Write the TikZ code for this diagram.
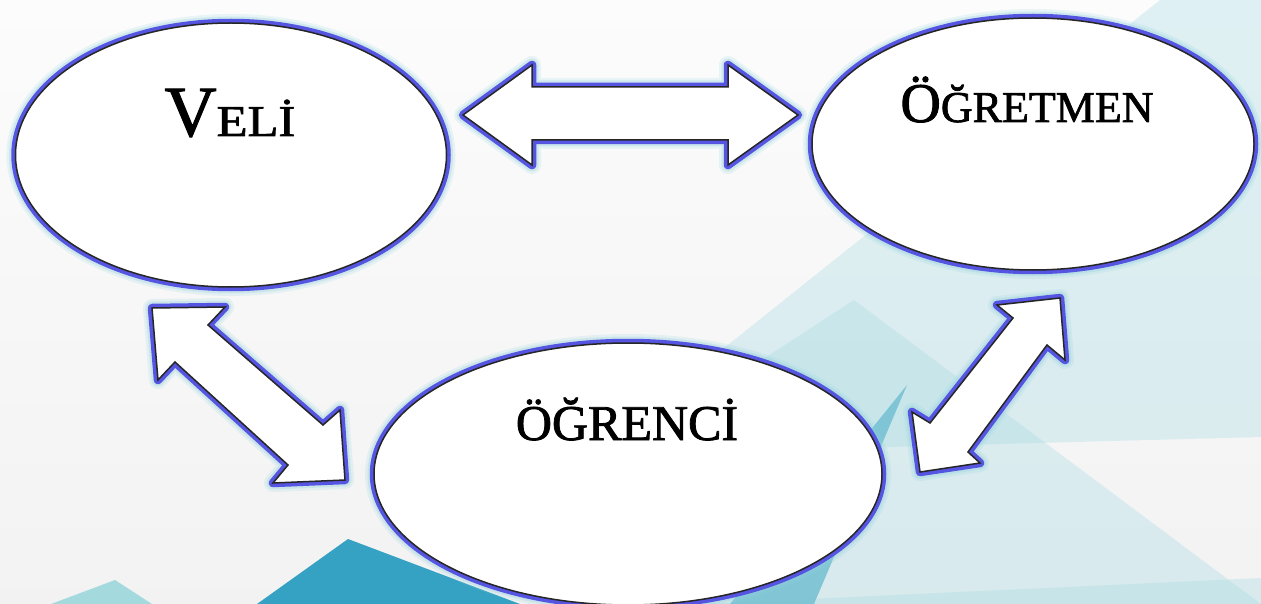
\documentclass[tikz,border=0pt]{standalone}
\usepackage{fontspec}
\usepackage{graphicx}
\setmainfont{Liberation Serif}
\newfontfamily\lblfont{Liberation Serif}[FakeBold=1.6]
\usetikzlibrary{shapes.geometric}
\definecolor{glowblue}{HTML}{5555E2}
\definecolor{glowcyan}{HTML}{8FD0DC}
\definecolor{tealpale}{HTML}{A8DCE3}
\definecolor{tealdark}{HTML}{36A2C3}
\definecolor{teallight}{HTML}{A4DADD}
\definecolor{tealmid}{HTML}{6DBDD0}
\begin{document}
\begin{tikzpicture}[x=1pt,y=-1pt,
  glow/.style={
    preaction={draw=glowcyan, line width=18pt, draw opacity=0.18, line join=round},
    preaction={draw=glowcyan, line width=13pt, draw opacity=0.3, line join=round},
    preaction={draw=glowblue, line width=8.5pt, line join=round},
    fill=white, draw=black!85, line width=1.5pt, line join=miter},
  bubble/.style={ellipse, inner sep=0pt, glow},
  label/.style={anchor=base, inner sep=0pt, text=black, font=\lblfont}]
\useasboundingbox (0,0) rectangle (1261,604);
% background
\shade[top color=white!70!gray!8, bottom color=gray!10] (0,0) rectangle (1261,604);
\fill[tealpale, fill opacity=0.35] (1160,0) -- (1261,0) -- (1261,437) -- (590,455) -- cycle;
\fill[tealpale, fill opacity=0.35] (854,300) -- (1261,604) -- (560,604) -- (700,400) -- cycle;
\fill[tealpale, fill opacity=0.35] (700,604) -- (1261,578) -- (1261,604) -- cycle;
\fill[tealmid, fill opacity=0.8] (907,385) -- (814,604) -- (730,604) -- cycle;
\fill[tealdark] (348,539) -- (257,604) -- (520,604) -- cycle;
\fill[teallight] (115,580) -- (51,604) -- (152,604) -- cycle;
% bubbles
\node[bubble, minimum width=431pt, minimum height=264pt] (veli) at (231,155) {};
\node[bubble, minimum width=442pt, minimum height=252pt] (ogretmen) at (1033,144) {};
\node[bubble, minimum width=508pt, minimum height=262pt] (ogrenci) at (628,474) {};
% labels
\node[label] (veliT) at (230,136) {\fontsize{72}{72}\selectfont V\scalebox{1.15}[1]{\fontsize{44}{44}\selectfont ELİ}};
\node[label] (ogretmenT) at (1027,122) {\scalebox{1.0}[1]{\fontsize{56}{56}\selectfont Ö\fontsize{44}{44}\selectfont ĞRETMEN}};
\node[label] (ogrenciT) at (627,440) {\scalebox{1.0}[1]{\fontsize{50}{50}\selectfont ÖĞRENCİ}};
% block arrows
\path[glow] (463,115) -- (532,65) -- (532,87) -- (728,87) -- (728,65) -- (798,115)
  -- (728,165) -- (728,140) -- (532,140) -- (532,165) -- cycle;
\path[glow] (152,308) -- (225,307) -- (208,325) -- (323,425) -- (340,410) -- (345,480)
  -- (273,483) -- (288,465) -- (175,362) -- (158,380) -- cycle;
\path[glow] (1060,298) -- (1065,360) -- (1047,345) -- (968,452) -- (980,463) -- (920,472)
  -- (912,412) -- (930,423) -- (1013,318) -- (997,305) -- cycle;
\end{tikzpicture}
\end{document}
